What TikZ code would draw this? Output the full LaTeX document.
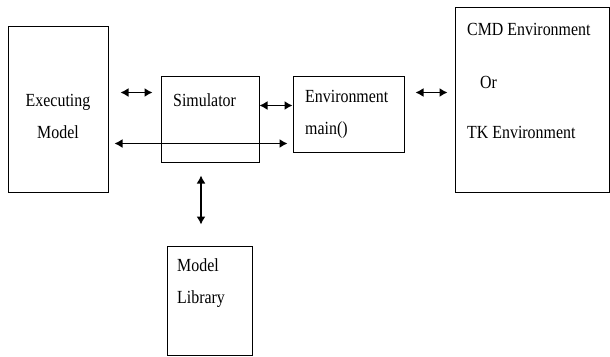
\documentclass[tikz,border=0pt]{standalone}
\usepackage{fontspec}
\setmainfont{Liberation Serif}[FakeStretch=0.86]
\usetikzlibrary{arrows.meta}
\tikzset{
  block/.style={draw,line width=1pt,inner sep=0pt},
  lbl/.style={inner sep=0pt,anchor=west,align=left,font=\fontsize{18.5}{32}\selectfont},
  link/.style={<->,line width=1.4pt}
}
\begin{document}
\begin{tikzpicture}[x=1pt,y=-1pt,>={Latex[length=8pt,width=9pt]}]
\useasboundingbox (0,0) rectangle (610,356);

\node[block,minimum width=100pt,minimum height=166pt] (exec) at (58,109.5) {};
\node[block,minimum width=98pt,minimum height=86pt] (sim) at (210,119) {};
\node[block,minimum width=111pt,minimum height=76pt] (env) at (348.5,114) {};
\node[block,minimum width=154pt,minimum height=185pt] (cmd) at (532,99.5) {};
\node[block,minimum width=85pt,minimum height=109pt] (lib) at (209.5,300.5) {};

\node[lbl,anchor=center,align=center] (execlbl) at (58,116) {Executing\\Model};
\node[lbl] (simlbl) at (173,100) {Simulator};
\node[lbl] (envlbl) at (305,114) {Environment\\main()};
\node[lbl] (cmdlbl) at (467,29) {CMD Environment};
\node[lbl] (orlbl) at (480,82) {Or};
\node[lbl] (tklbl) at (467,132) {TK Environment};
\node[lbl] (liblbl) at (177,283) {Model\\Library};

\draw[link,shorten <=12pt,shorten >=8pt] ([yshift=-17pt]sim.north west -| exec.east) -- ([yshift=-17pt]sim.north west);
\draw[link,shorten <=6pt,shorten >=5pt] ([yshift=9pt]env.south west -| exec.east) -- ([yshift=9pt]env.south west);
\draw[link] ([yshift=-30pt]sim.north east) -- ([yshift=-30pt]sim.north east -| env.west);
\draw[link,shorten <=11pt,shorten >=7pt] ([yshift=-17pt]env.north east) -- ([yshift=-17pt]env.north east -| cmd.west);
\draw[link,shorten <=13pt,shorten >=21pt] ([xshift=-9pt]sim.south) -- ([xshift=-9pt]sim.south |- lib.north);
\end{tikzpicture}
\end{document}
